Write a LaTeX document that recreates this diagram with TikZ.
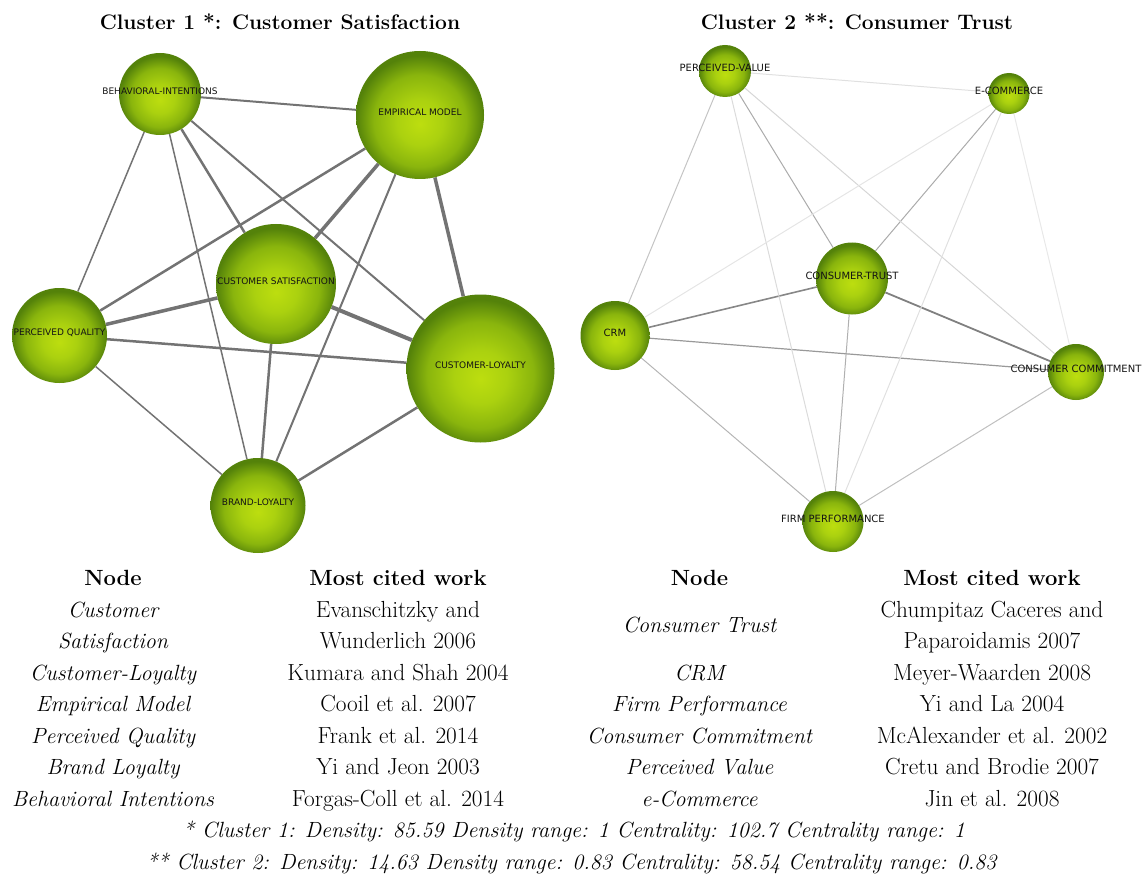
\documentclass[tikz,border=0pt]{standalone}
\usepackage{fontspec}
\newfontfamily\labfont{DejaVu Sans}
\usetikzlibrary{backgrounds}
\pgfdeclareradialshading{ballshade}{\pgfpoint{0bp}{-3.5bp}}{rgb(0bp)=(0.74,0.87,0.06); rgb(9bp)=(0.67,0.82,0.06); rgb(18bp)=(0.54,0.71,0.05); rgb(25bp)=(0.33,0.51,0.04); rgb(50bp)=(0.33,0.51,0.04)}
\tikzset{
  ball/.style={circle, draw=none, inner sep=0pt, shading=ballshade, minimum size=#1},
  labA/.style={font=\labfont\fontsize{9}{10}\selectfont, text=black!92, inner sep=0pt, yshift=3pt},
  labB/.style={font=\labfont\fontsize{10}{11}\selectfont, text=black!92, inner sep=0pt, yshift=3pt},
  eA/.style={draw=black!55, line width=#1},
  eB/.style={draw=black!#1, line width=1pt},
  tb/.style={font=\fontsize{23.3}{27}\selectfont, inner sep=0pt, anchor=base},
  tbi/.style={tb, font=\fontsize{22}{26}\selectfont\itshape},
  tbh/.style={tb, font=\fontsize{22}{26}\selectfont\bfseries},
  ttl/.style={inner sep=0pt, anchor=base, font=\fontsize{21}{25}\selectfont\bfseries}
}
\begin{document}
\begin{tikzpicture}[x=1pt, y=-1pt]
\useasboundingbox (0,0) rectangle (1142,877);
% titles
\node[ttl] (t1) at (280,30) {Cluster 1 *: Customer Satisfaction};
\node[ttl] (t2) at (857,30) {Cluster 2 **: Consumer Trust};
% cluster 1 nodes
\node[ball=82pt, label={[labA]center:BEHAVIORAL-INTENTIONS}] (bi) at (160,94) {};
\node[ball=128pt, label={[labA]center:EMPIRICAL MODEL}] (em) at (420,115) {};
\node[ball=120pt, label={[labA]center:CUSTOMER SATISFACTION}] (cs) at (276,284) {};
\node[ball=95pt, label={[labA]center:PERCEIVED QUALITY}] (pq) at (59.5,335.5) {};
\node[ball=148pt, label={[labA]center:CUSTOMER-LOYALTY}] (cl) at (480.5,368.5) {};
\node[ball=95pt, label={[labA]center:BRAND-LOYALTY}] (bl) at (258,505.5) {};
% cluster 2 nodes
\node[ball=52pt, label={[labB]center:PERCEIVED-VALUE}] (pv) at (725,71) {};
\node[ball=41pt, label={[labB]center:E-COMMERCE}] (ec) at (1009,93.5) {};
\node[ball=72pt, label={[labB]center:CONSUMER-TRUST}] (ct) at (852,278.5) {};
\node[ball=69pt, label={[labB]center:CRM}] (crm) at (615,335.5) {};
\node[ball=56pt, label={[labB]center:CONSUMER COMMITMENT}] (cc) at (1076,372) {};
\node[ball=61pt, label={[labB]center:FIRM PERFORMANCE}] (fp) at (833,521.5) {};
\begin{scope}[on background layer]
% cluster 1 edges
\draw[eA=2pt] (bi) -- (em);
\draw[eA=1.5pt] (bi) -- (pq);
\draw[eA=1.5pt] (bi) -- (bl);
\draw[eA=2.5pt] (bi) -- (cs);
\draw[eA=2pt] (bi) -- (cl);
\draw[eA=2.5pt] (em) -- (pq);
\draw[eA=3.5pt] (em) -- (cs);
\draw[eA=2pt] (em) -- (bl);
\draw[eA=3.5pt] (em) -- (cl);
\draw[eA=3.5pt] (cs) -- (pq);
\draw[eA=4pt] (cs) -- (cl);
\draw[eA=2.5pt] (cs) -- (bl);
\draw[eA=2.5pt] (pq) -- (cl);
\draw[eA=1.5pt] (pq) -- (bl);
\draw[eA=2.5pt] (cl) -- (bl);
% cluster 2 edges
\draw[eB=47, line width=1.6pt] (ct) -- (crm);
\draw[eB=50, line width=1.8pt] (ct) -- (cc);
\draw[eB=40, line width=1.2pt] (crm) -- (cc);
\draw[eB=33] (pv) -- (ct);
\draw[eB=33] (ec) -- (ct);
\draw[eB=31] (ct) -- (fp);
\draw[eB=29] (crm) -- (fp);
\draw[eB=25] (cc) -- (fp);
\draw[eB=23] (pv) -- (crm);
\draw[eB=16] (pv) -- (cc);
\draw[eB=14] (pv) -- (fp);
\draw[eB=12] (pv) -- (ec);
\draw[eB=10] (ec) -- (crm);
\draw[eB=12] (ec) -- (fp);
\draw[eB=9] (ec) -- (cc);
\end{scope}
% left table
\node[tbh] (lh1) at (113,585) {Node};
\node[tbh] (lh2) at (398,585) {Most cited work};
\node[tbi] (ln1a) at (113,617) {Customer};
\node[tbi] (ln1b) at (113,648) {Satisfaction};
\node[tbi] (ln2) at (113,680) {Customer-Loyalty};
\node[tbi] (ln3) at (113,711.5) {Empirical Model};
\node[tbi] (ln4) at (113,743) {Perceived Quality};
\node[tbi] (ln5) at (113,774.5) {Brand Loyalty};
\node[tbi] (ln6) at (113,806) {Behavioral Intentions};
\node[tb] (lc1a) at (398,617) {Evanschitzky and};
\node[tb] (lc1b) at (398,648) {Wunderlich 2006};
\node[tb] (lc2) at (398,680) {Kumara and Shah 2004};
\node[tb] (lc3) at (398,711.5) {Cooil et al. 2007};
\node[tb] (lc4) at (398,743) {Frank et al. 2014};
\node[tb] (lc5) at (398,774.5) {Yi and Jeon 2003};
\node[tb] (lc6) at (398,806) {Forgas-Coll et al. 2014};
% right table
\node[tbh] (rh1) at (699.5,585) {Node};
\node[tbh] (rh2) at (992,585) {Most cited work};
\node[tbi] (rn1) at (699.5,632.5) {Consumer Trust};
\node[tbi] (rn2) at (699.5,680) {CRM};
\node[tbi] (rn3) at (699.5,711.5) {Firm Performance};
\node[tbi] (rn4) at (699.5,743) {Consumer Commitment};
\node[tbi] (rn5) at (699.5,774.5) {Perceived Value};
\node[tbi] (rn6) at (699.5,806) {e-Commerce};
\node[tb] (rc1a) at (992,617) {Chumpitaz Caceres and};
\node[tb] (rc1b) at (992,648) {Paparoidamis 2007};
\node[tb] (rc2) at (992,680) {Meyer-Waarden 2008};
\node[tb] (rc3) at (992,711.5) {Yi and La 2004};
\node[tb] (rc4) at (992,743) {McAlexander et al. 2002};
\node[tb] (rc5) at (992,774.5) {Cretu and Brodie 2007};
\node[tb] (rc6) at (992,806) {Jin et al. 2008};
% footnotes
\node[tbi] (f1) at (574,837.5) {* Cluster 1: Density: 85.59 Density range: 1 Centrality: 102.7 Centrality range: 1};
\node[tbi] (f2) at (571.5,869) {** Cluster 2: Density: 14.63 Density range: 0.83 Centrality: 58.54 Centrality range: 0.83};
\end{tikzpicture}
\end{document}
